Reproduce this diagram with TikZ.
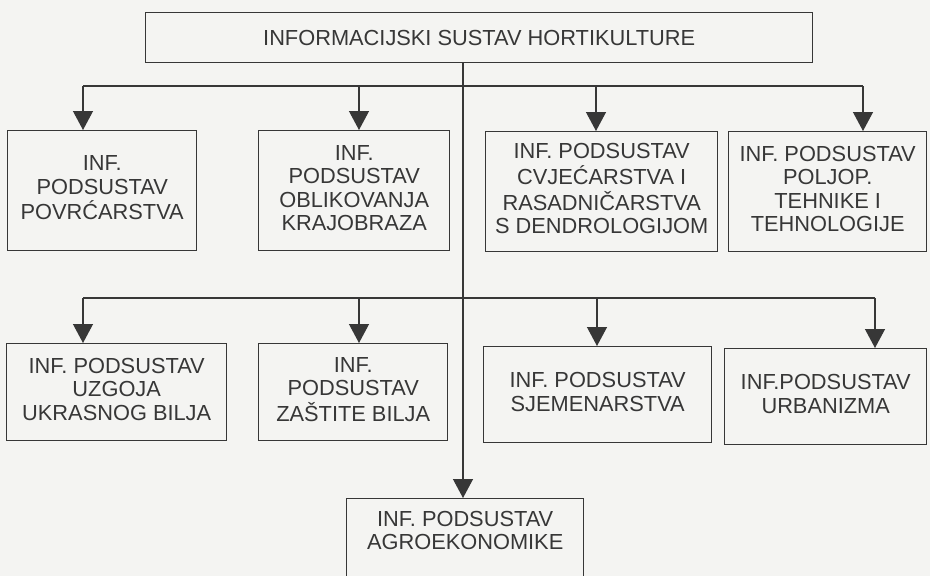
\documentclass[tikz,border=0pt]{standalone}
\usepackage{fontspec}
\setmainfont{Liberation Sans}
\usetikzlibrary{arrows.meta}
\definecolor{ink}{RGB}{55,55,55}
\definecolor{paper}{RGB}{244,244,242}

\begin{document}
\begin{tikzpicture}[x=1pt,y=-1pt,
  sub/.style={rectangle,draw=ink,line width=1.4pt,anchor=north west,inner sep=0pt,
    text=ink,font=\fontsize{21.8}{23.3}\selectfont},
  link/.style={draw=ink,line width=1.3pt},
  arr/.style={link,-{Triangle[width=20pt,length=19pt]}}]
  \useasboundingbox (0,0) rectangle (930,576);
  \fill[paper] (0,0) rectangle (930,576);
  \clip (0,0) rectangle (930,576);

  \node[sub,minimum width=667,minimum height=50] (hort) at (145,12) {INFORMACIJSKI SUSTAV HORTIKULTURE};

  % first row
  \node[sub,minimum width=189,minimum height=120] (povr) at (7,130) {
    \begin{tabular}{c}
      INF. \\
      PODSUSTAV \\
      POVRĆARSTVA
    \end{tabular}
  };

  \node[sub,minimum width=191,minimum height=120] (obli) at (258,130) {
    \begin{tabular}{c}
      INF. \\
      PODSUSTAV \\
      OBLIKOVANJA \\
      KRAJOBRAZA
    \end{tabular}
  };

  \node[sub,minimum width=232,minimum height=120] (cvje) at (485,131) {
    \begin{tabular}{c}
      INF. PODSUSTAV \\
      CVJEĆARSTVA I \\
      RASADNIČARSTVA \\
      S DENDROLOGIJOM
    \end{tabular}
  };

  \node[sub,minimum width=198,minimum height=120] (polj) at (728,131) {
    \begin{tabular}{c}
      INF. PODSUSTAV \\
      POLJOP. \\
      TEHNIKE I \\
      TEHNOLOGIJE
    \end{tabular}
  };

  % second row
  \node[sub,minimum width=220,minimum height=97] (ukra) at (6,343) {
    \begin{tabular}{c}
      INF. PODSUSTAV \\
      UZGOJA \\
      UKRASNOG BILJA
    \end{tabular}
  };

  \node[sub,minimum width=189,minimum height=97] (zast) at (258,343) {
    \begin{tabular}{c}
      INF. \\
      PODSUSTAV \\
      ZAŠTITE BILJA
    \end{tabular}
  };

  \node[sub,minimum width=228,minimum height=96] (sjem) at (483,346) {
    \begin{tabular}{c}
      INF. PODSUSTAV \\
      SJEMENARSTVA
    \end{tabular}
  };

  \node[sub,minimum width=202,minimum height=96] (urba) at (724,348) {
    \begin{tabular}{c}
      INF.PODSUSTAV \\
      URBANIZMA
    \end{tabular}
  };

  \node[sub,minimum width=237,text height=40,text depth=60] (agro) at (346,498) {
    \begin{tabular}{c}
      INF. PODSUSTAV \\
      AGROEKONOMIKE
    \end{tabular}
  };

  % connectors
  \coordinate (trunk) at (463,0);
  \coordinate (a1) at (83,86);
  \coordinate (a2) at (359,86);
  \coordinate (a3) at (596,86);
  \coordinate (a4) at (863,86);
  \coordinate (b1) at (83,298);
  \coordinate (b2) at (359,298);
  \coordinate (b3) at (597,298);
  \coordinate (b4) at (875,298);

  \draw[arr] (hort.south -| trunk) -- (agro.north -| trunk);
  \draw[link] (a1) -- (a4);
  \draw[link] (b1) -- (b4);
  \foreach \j/\b in {a1/povr,a2/obli,a3/cvje,a4/polj,b1/ukra,b2/zast,b3/sjem,b4/urba}
    \draw[arr] (\j) -- (\j |- \b.north);
\end{tikzpicture}
\end{document}
